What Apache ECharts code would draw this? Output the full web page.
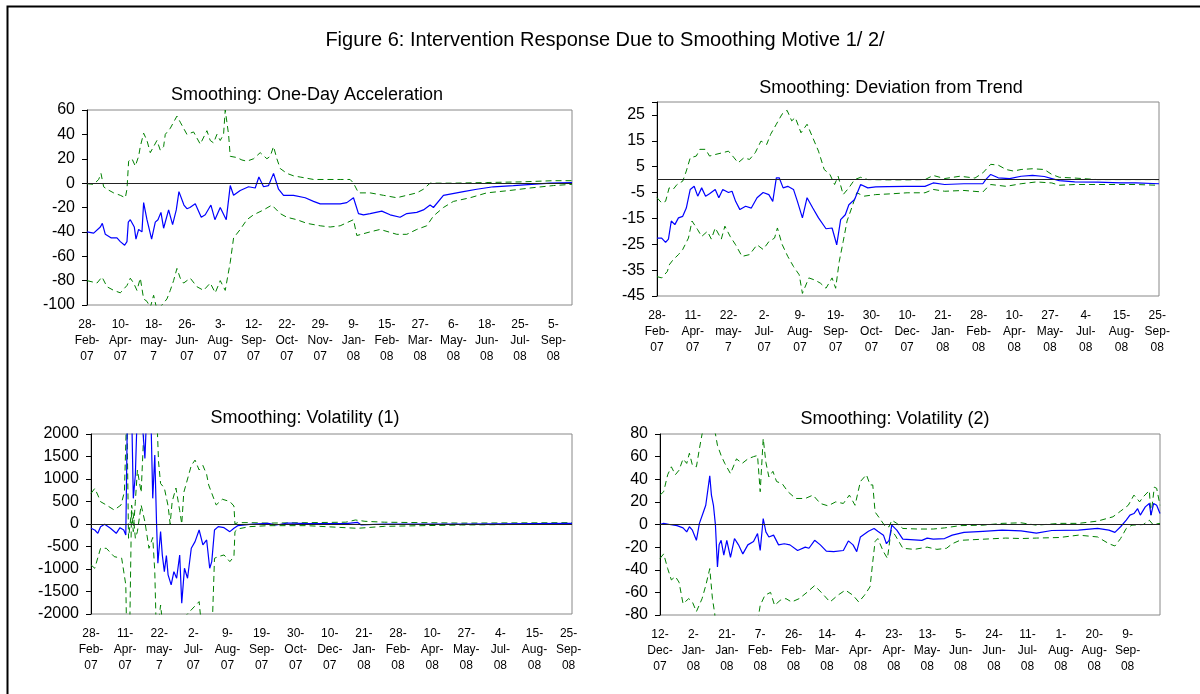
<!DOCTYPE html>
<html>
<head>
<meta charset="utf-8">
<title>Figure 6</title>
<script src="https://cdn.jsdelivr.net/npm/echarts@6/dist/echarts.min.js"></script>
<style>
  html, body { margin: 0; padding: 0; background: #fff; }
  #main { width: 1200px; height: 694px; }
</style>
</head>
<body>
<div id="main"></div>
<script>
// x positions are in "label steps": 0 = first date label, 1 = second label, ...

// 1. One-Day Acceleration
var accDates = ['28-Feb-07', '10-Apr-07', '18-may-7', '26-Jun-07', '3-Aug-07', '12-Sep-07', '22-Oct-07', '29-Nov-07',
    '9-Jan-08', '15-Feb-08', '27-Mar-08', '6-May-08', '18-Jun-08', '25-Jul-08', '5-Sep-08'];
var accTicks = [-100, -80, -60, -40, -20, 0, 20, 40, 60];
var accMid = [[0, -40], [0.2, -41], [0.4, -36], [0.46, -33], [0.55, -42], [0.73, -45], [0.9, -45], [1.0, -48], [1.13, -51],
    [1.2, -48], [1.24, -32], [1.3, -30], [1.36, -30], [1.42, -36], [1.47, -46], [1.55, -38], [1.65, -40], [1.7, -16],
    [1.8, -30], [1.94, -46], [2.05, -32], [2.13, -30], [2.22, -24], [2.3, -37], [2.45, -22], [2.57, -34], [2.68, -22],
    [2.76, -7], [2.91, -18], [3.0, -21], [3.09, -20], [3.25, -17], [3.43, -28], [3.55, -26], [3.72, -18], [3.84, -30],
    [4.0, -20], [4.18, -30], [4.3, -2], [4.4, -10], [4.6, -6], [4.85, -3], [5.05, -4], [5.16, 5], [5.3, -3], [5.45, -2],
    [5.6, 8], [5.75, -5], [5.9, -10], [6.2, -10], [6.55, -12], [6.8, -15], [7.0, -17], [7.3, -17], [7.6, -17], [7.8, -16],
    [8.0, -12], [8.15, -25], [8.3, -26], [8.5, -25], [8.85, -23], [9.1, -26], [9.4, -28], [9.6, -25], [9.9, -24],
    [10.1, -22], [10.3, -18], [10.4, -20], [10.7, -10], [10.9, -9], [11.3, -7], [11.7, -5], [12.2, -3], [12.8, -2],
    [13.35, -1], [13.9, 0], [14.56, 0.5]];
var accHi = [[0, -0.5], [0.2, -1], [0.35, 3], [0.42, 8], [0.5, -3], [0.6, -5], [0.8, -8], [1.0, -10], [1.15, -12], [1.2, -5],
    [1.25, 18], [1.35, 20], [1.45, 14], [1.55, 22], [1.6, 30], [1.7, 41], [1.8, 35], [1.9, 25], [2.0, 30], [2.1, 35],
    [2.2, 27], [2.3, 30], [2.35, 40], [2.5, 45], [2.7, 55], [2.8, 50], [2.9, 45], [3.0, 40], [3.2, 42], [3.4, 32],
    [3.6, 43], [3.7, 35], [3.8, 33], [3.9, 40], [4.0, 35], [4.1, 40], [4.15, 60], [4.25, 40], [4.3, 22], [4.5, 21],
    [4.65, 19], [4.8, 18], [5.0, 20], [5.2, 25], [5.4, 20], [5.5, 22], [5.6, 30], [5.7, 20], [5.8, 12], [6.0, 8],
    [6.2, 6], [6.4, 5], [6.8, 3], [7.2, 3], [7.6, 3], [7.9, 3], [8.0, 0], [8.15, -8], [8.5, -8], [8.9, -10], [9.3, -12],
    [9.6, -10], [9.9, -8], [10.1, -5], [10.3, 0], [10.6, 0], [11, 0], [12, 0.5], [13, 1], [14, 2], [14.56, 2]];
var accLo = [[0, -80], [0.3, -82], [0.45, -77], [0.6, -85], [0.8, -88], [1.0, -90], [1.1, -87], [1.2, -84], [1.3, -78],
    [1.4, -82], [1.5, -88], [1.6, -78], [1.7, -95], [1.8, -97], [1.9, -102], [2.0, -92], [2.1, -104], [2.25, -100],
    [2.4, -95], [2.5, -88], [2.6, -80], [2.7, -70], [2.8, -78], [2.9, -82], [3.1, -78], [3.3, -85], [3.5, -88],
    [3.7, -82], [3.85, -90], [4.0, -80], [4.15, -88], [4.3, -65], [4.4, -45], [4.6, -38], [4.8, -30], [5.0, -26],
    [5.3, -22], [5.55, -18], [5.8, -25], [6.0, -28], [6.3, -30], [6.6, -33], [7.0, -35], [7.3, -36], [7.6, -35],
    [8.0, -30], [8.1, -43], [8.5, -40], [8.8, -38], [9.3, -42], [9.6, -42], [9.9, -38], [10.2, -35], [10.4, -27],
    [10.7, -20], [11.0, -15], [11.5, -12], [12, -8], [12.7, -6], [13.3, -4], [14, -2], [14.56, -1]];

// 2. Deviation from Trend
var devDates = ['28-Feb-07', '11-Apr-07', '22-may-7', '2-Jul-07', '9-Aug-07', '19-Sep-07', '30-Oct-07', '10-Dec-07',
    '21-Jan-08', '28-Feb-08', '10-Apr-08', '27-May-08', '4-Jul-08', '15-Aug-08', '25-Sep-08'];
var devTicks = [-45, -35, -25, -15, -5, 5, 15, 25];
var devMid = [[0, -22.6], [0.13, -22.6], [0.24, -24.3], [0.32, -23], [0.4, -16], [0.5, -17.4], [0.6, -14.8], [0.72, -14.2],
    [0.82, -11], [0.93, -3.8], [1.04, -2.6], [1.14, -6.4], [1.25, -3.2], [1.36, -6.4], [1.47, -5.5], [1.63, -3.8],
    [1.73, -7], [1.84, -3.8], [2.0, -5], [2.1, -4.5], [2.2, -8.4], [2.32, -11.6], [2.48, -10.3], [2.64, -11], [2.8, -7],
    [2.97, -5], [3.13, -5.8], [3.24, -8.4], [3.34, 0.7], [3.42, 0.7], [3.53, -3.2], [3.66, -2.6], [3.82, -3.8],
    [3.93, -8.4], [4.07, -14.8], [4.2, -7], [4.36, -11], [4.52, -14.8], [4.73, -19], [4.9, -18.7], [5.03, -25.2],
    [5.14, -15.5], [5.27, -13.6], [5.37, -9.7], [5.53, -7.7], [5.7, -1.9], [5.9, -3.2], [6.12, -2.8], [6.45, -2.7],
    [6.98, -2.6], [7.5, -2.6], [7.73, -1.3], [8.05, -1.9], [8.59, -1.6], [9.12, -1.6], [9.2, 0], [9.34, 2], [9.55, 0.7],
    [9.87, 0.4], [10.19, 1.3], [10.51, 1.6], [10.84, 1.2], [11.05, 0.4], [11.26, -0.4], [11.69, -0.9], [12.33, -1],
    [12.98, -1.3], [13.4, -1.3], [14.05, -1.6]];
var devHi = [[0, -7], [0.13, -9], [0.24, -8.4], [0.34, -3.2], [0.45, -3.8], [0.56, -1.9], [0.72, -0.6], [0.82, 3.3],
    [0.93, 8.4], [1.1, 9.1], [1.2, 11.7], [1.36, 11.7], [1.47, 9.1], [1.63, 9.7], [1.84, 10.4], [2.0, 11], [2.16, 8.4],
    [2.27, 6.5], [2.43, 8.4], [2.59, 7.8], [2.75, 10.4], [2.91, 14.9], [3.07, 13.6], [3.18, 17.5], [3.34, 21.4],
    [3.5, 25.3], [3.64, 26.8], [3.77, 22.7], [3.87, 24], [4.03, 18.1], [4.2, 21.4], [4.36, 16.2], [4.52, 11], [4.68, 3.9],
    [4.84, 2], [4.97, -1.9], [5.07, 1.3], [5.21, -5.8], [5.37, -3.2], [5.53, 0], [5.7, 0.9], [5.9, 0], [6.45, -0.1],
    [7.0, -0.1], [7.5, 0], [7.73, 1.6], [8.05, 0.4], [8.48, 1.3], [8.9, 0.6], [9.12, 2.6], [9.34, 5.9], [9.55, 5.6],
    [9.77, 3.9], [9.98, 3.3], [10.19, 3.9], [10.51, 4.2], [10.84, 3.9], [11.05, 2], [11.26, 0.9], [11.69, 0.6],
    [12.33, 0], [13.4, 0], [14.05, 0]];
var devLo = [[0, -37.5], [0.13, -38], [0.29, -35.5], [0.34, -33], [0.45, -31], [0.6, -29], [0.72, -27], [0.88, -22.6],
    [0.98, -16], [1.14, -19.4], [1.25, -22], [1.41, -20], [1.52, -23], [1.63, -18.7], [1.8, -23], [1.9, -18], [2.05, -22],
    [2.2, -25.2], [2.38, -29.7], [2.59, -29], [2.8, -25.2], [2.97, -27], [3.13, -24], [3.29, -22.6], [3.37, -18.7],
    [3.5, -25], [3.66, -29.7], [3.82, -33.6], [3.98, -36.8], [4.07, -44], [4.25, -38], [4.41, -38.8], [4.57, -40],
    [4.73, -42], [4.9, -38], [5.0, -42], [5.1, -31.7], [5.21, -24], [5.32, -16], [5.48, -9.7], [5.59, -5.1], [5.8, -6.4],
    [6.12, -5.8], [6.55, -5.5], [7.0, -5.1], [7.5, -5.1], [7.73, -3.8], [8.05, -4.5], [8.59, -4.2], [9.12, -4.8],
    [9.23, -3.2], [9.34, -1.9], [9.77, -2.6], [10.19, -1.6], [10.62, -0.9], [11.05, -1.3], [11.26, -2.2], [11.69, -1.9],
    [12.33, -1.9], [13.4, -1.9], [14.05, -2.2]];

// 3. Volatility (1)
var vol1Dates = devDates;
var vol1Ticks = [-2000, -1500, -1000, -500, 0, 500, 1000, 1500, 2000];
var vol1Mid = [[0, -96], [0.11, -133], [0.2, -207], [0.28, -59], [0.4, -7], [0.57, -96], [0.74, -207], [0.85, -81],
    [0.96, -133], [1.02, -244], [1.07, 2600], [1.19, 2600], [1.24, 570], [1.3, 1088], [1.36, 2600], [1.47, 2600],
    [1.58, 1458], [1.64, 2600], [1.75, 2600], [1.81, 570], [1.87, 1532], [1.92, 52], [1.96, -873], [2.04, -170],
    [2.09, -688], [2.15, -1058], [2.21, -700], [2.26, -1132], [2.35, -1354], [2.43, -1058], [2.51, -1206], [2.6, -688],
    [2.66, -1761], [2.74, -984], [2.83, -1206], [2.94, -540], [3.05, -392], [3.17, -133], [3.28, -466], [3.39, -355],
    [3.48, -984], [3.54, -836], [3.62, -133], [3.73, -59], [3.9, -81], [4.07, -170], [4.19, -96], [4.3, -37],
    [4.64, -7], [5.2, 15], [5.43, -22], [5.77, 22], [6.33, 10], [7.47, 10], [7.81, 37], [7.92, -20], [8.6, 0],
    [10.86, 0], [14.1, 15]];
var vol1Hi = [[0, 680], [0.11, 790], [0.2, 644], [0.28, 496], [0.45, 422], [0.68, 311], [0.88, 422], [0.98, 718],
    [1.05, 2600], [1.1, -318], [1.19, 300], [1.24, -170], [1.3, 500], [1.36, 1200], [1.47, 700], [1.58, 2600],
    [1.7, 2600], [1.81, 2600], [1.92, 2600], [1.98, 1384], [2.04, 900], [2.15, 800], [2.26, 400], [2.32, 0], [2.38, 500],
    [2.49, 800], [2.6, 300], [2.66, 0], [2.72, 700], [2.83, 1000], [2.94, 1300], [3.05, 1420], [3.17, 1200],
    [3.28, 1300], [3.39, 1100], [3.45, 866], [3.56, 644], [3.67, 422], [3.85, 550], [4.07, 500], [4.19, 400],
    [4.22, 0], [4.3, 30], [4.64, 30], [5.2, 20], [6.33, 30], [7.47, 40], [7.75, 89], [8.03, 60], [8.6, 40],
    [10.86, 20], [14.1, 30]];
var vol1Lo = [[0, -910], [0.11, -984], [0.28, -540], [0.45, -540], [0.68, -725], [0.9, -762], [1.02, -1354],
    [1.05, -2600], [1.13, -2600], [1.19, 420], [1.24, 200], [1.3, -318], [1.36, -170], [1.47, 420], [1.58, 50],
    [1.7, -540], [1.81, -300], [1.87, -1058], [1.92, -2600], [2.04, -1800], [2.15, -2600], [2.6, -2600], [2.7, -2100],
    [3.17, -1724], [3.28, -2600], [3.54, -2600], [3.62, -762], [3.73, -725], [3.9, -688], [4.07, -836], [4.19, -725],
    [4.22, -170], [4.3, -111], [4.64, -59], [5.2, -37], [6.33, -37], [7.81, -96], [8.6, -52], [10.86, -22], [14.1, 0]];

// 4. Volatility (2)
var vol2Dates = ['12-Dec-07', '2-Jan-08', '21-Jan-08', '7-Feb-08', '26-Feb-08', '14-Mar-08', '4-Apr-08', '23-Apr-08',
    '13-May-08', '5-Jun-08', '24-Jun-08', '11-Jul-08', '1-Aug-08', '20-Aug-08', '9-Sep-08'];
var vol2Ticks = [-80, -60, -40, -20, 0, 20, 40, 60, 80];
var vol2Mid = [[0, 0], [0.11, 1], [0.29, 0], [0.51, -1], [0.69, -3], [0.8, -6.5], [0.88, -2], [0.97, -5], [1.09, -14],
    [1.18, 1], [1.3, 11], [1.37, 17], [1.49, 43], [1.54, 26], [1.6, 17], [1.66, -0.6], [1.72, -37.5], [1.77, -18],
    [1.83, -14], [1.91, -27], [2.0, -14], [2.11, -29], [2.23, -12.4], [2.35, -18], [2.48, -26], [2.63, -18], [2.8, -15],
    [2.92, -8], [3.0, -23], [3.09, 5.3], [3.17, -6.5], [3.26, -11], [3.4, -9.4], [3.55, -18], [3.72, -17], [3.89, -18],
    [4.12, -23], [4.35, -20], [4.46, -21], [4.63, -14], [4.8, -18], [4.98, -23.6], [5.2, -24], [5.49, -23],
    [5.64, -14.5], [5.78, -18], [5.89, -24], [6.0, -11], [6.24, -6], [6.41, -3.5], [6.52, -6], [6.69, -9.4], [6.78, -17],
    [6.86, -14], [6.94, -0.6], [7.09, -5], [7.27, -13], [7.84, -14], [8.0, -12], [8.18, -13], [8.52, -12.4],
    [8.75, -9.4], [9.1, -7], [9.67, -6], [10.24, -5], [10.81, -5.6], [11.27, -7.7], [11.73, -5.3], [12.53, -5],
    [13.1, -3.5], [13.44, -5], [13.62, -7], [13.79, -2], [13.96, 3.8], [14.07, 8.3], [14.19, 9.7], [14.3, 14],
    [14.38, 8.3], [14.53, 15.6], [14.65, 18.6], [14.7, 8.3], [14.78, 18.6], [14.87, 17], [14.97, 9.7]];
var vol2Hi = [[0, 26], [0.11, 29], [0.23, 44], [0.34, 51], [0.46, 44], [0.57, 48], [0.69, 58], [0.8, 54], [0.88, 63],
    [0.97, 52.5], [1.09, 51], [1.18, 67], [1.26, 80], [1.37, 90], [1.54, 90], [1.66, 80], [1.72, 70], [1.83, 61],
    [1.94, 54], [2.11, 45], [2.29, 58], [2.46, 54], [2.63, 58], [2.8, 60], [2.92, 61], [3.0, 29], [3.09, 76],
    [3.17, 55], [3.26, 42], [3.38, 47], [3.49, 38], [3.66, 36], [3.83, 29], [4.06, 23], [4.35, 23], [4.58, 26],
    [4.8, 18.6], [5.03, 16.5], [5.26, 20], [5.49, 18.6], [5.67, 26], [5.84, 17], [6.0, 38], [6.18, 44], [6.29, 35],
    [6.37, 35], [6.44, 11], [6.58, 5.3], [6.75, -2], [6.86, -2], [6.94, 3.8], [7.09, 1], [7.27, -3.5], [7.72, -4],
    [8.18, -4], [8.52, -3], [8.98, -1], [9.67, -0.6], [10.24, 1], [10.81, 1.5], [11.27, -0.6], [11.96, 1], [12.53, 1],
    [13.1, 3], [13.56, 6.8], [13.79, 11.8], [14.02, 17], [14.19, 26], [14.36, 20], [14.47, 24.5], [14.65, 30],
    [14.7, 8.3], [14.8, 33], [14.87, 32], [14.97, 17]];
var vol2Lo = [[0, -30], [0.11, -26], [0.23, -39], [0.34, -49], [0.46, -46], [0.57, -51], [0.69, -70], [0.86, -65.5],
    [0.97, -68.5], [1.09, -77], [1.26, -65.5], [1.37, -54], [1.49, -39], [1.57, -65.5], [1.64, -79], [1.66, -89],
    [2.3, -95], [2.9, -90], [3.0, -71.5], [3.14, -62.6], [3.31, -60], [3.43, -71.5], [3.6, -67], [3.77, -65.5],
    [3.94, -68.5], [4.17, -65.5], [4.4, -60], [4.63, -54], [4.86, -61], [5.09, -68.5], [5.32, -62.6], [5.55, -58],
    [5.78, -62.6], [5.95, -68.5], [6.12, -62.6], [6.29, -55], [6.37, -33], [6.44, -15], [6.52, -12.4], [6.69, -24],
    [6.81, -30], [6.92, -5], [7.04, -9.4], [7.27, -21], [7.61, -22], [8.0, -20], [8.29, -22], [8.58, -21], [8.75, -17],
    [8.98, -14], [9.67, -13], [10.35, -12], [10.81, -12.4], [11.27, -12], [11.96, -11.5], [12.53, -9.4], [13.1, -11],
    [13.44, -17], [13.62, -19], [13.79, -12.4], [13.96, -3.5], [14.13, -0.6], [14.47, 0], [14.65, 3.8], [14.76, 0],
    [14.97, 1]];

var FONT = '"Liberation Sans", Arial, sans-serif';

var myChart = echarts.init(document.getElementById('main'), null, { renderer: 'canvas' });

var grids = [], xAxes = [], yAxes = [], series = [];

// one panel = one grid + its axes + three lines (estimate, upper band, lower band)
function addPanel(box, dates, xMax, ticks, mid, hi, lo) {
    var i = grids.length;
    grids.push({
        left: box[0], top: box[1], width: box[2], height: box[3],
        show: true, borderColor: '#888', borderWidth: 1, backgroundColor: 'transparent',
        outerBoundsMode: 'none'
    });
    xAxes.push({
        type: 'value', gridIndex: i, min: 0, max: xMax, interval: 1,
        axisLine: { show: false }, axisTick: { show: false }, splitLine: { show: false },
        axisLabel: {
            color: '#000', fontFamily: FONT, fontSize: 12, lineHeight: 16, margin: 12,
            showMinLabel: true, showMaxLabel: true,
            formatter: function (v) {
                var s = dates[v];
                return s ? s.replace(/-/g, '-\n') : '';
            }
        }
    });
    var step = ticks[1] - ticks[0];
    var top = ticks[ticks.length - 1];
    yAxes.push({
        type: 'value', gridIndex: i,
        min: ticks[0], max: box[4] !== undefined ? box[4] : top, interval: step,
        axisLine: { show: true, onZero: false, lineStyle: { color: '#000', width: 1 } },
        axisTick: { show: true, length: 5, lineStyle: { color: '#000' } },
        splitLine: { show: false },
        axisLabel: {
            color: '#000', fontFamily: FONT, fontSize: 16, margin: 12,
            formatter: function (v) { return ticks.indexOf(v) >= 0 ? String(v) : ''; }
        }
    });
    series.push({
        type: 'line', xAxisIndex: i, yAxisIndex: i, data: hi, symbol: 'none',
        lineStyle: { color: '#008000', width: 1, type: [6, 4] }, z: 2
    });
    series.push({
        type: 'line', xAxisIndex: i, yAxisIndex: i, data: lo, symbol: 'none',
        lineStyle: { color: '#008000', width: 1, type: [6, 4] }, z: 2
    });
    series.push({
        type: 'line', xAxisIndex: i, yAxisIndex: i, data: mid, symbol: 'none',
        lineStyle: { color: '#0000ff', width: 1.2 }, z: 3,
        markLine: {
            silent: true, symbol: 'none', label: { show: false },
            lineStyle: { color: '#222', width: 1.2, type: 'solid' },
            data: [{ yAxis: 0 }]
        }
    });
}

addPanel([87, 110, 485, 195], accDates, 14.56, accTicks, accMid, accHi, accLo);
addPanel([657, 102, 502, 194, 30], devDates, 14.05, devTicks, devMid, devHi, devLo);
addPanel([91, 434, 481, 180], vol1Dates, 14.1, vol1Ticks, vol1Mid, vol1Hi, vol1Lo);
addPanel([660, 434, 500, 181], vol2Dates, 14.97, vol2Ticks, vol2Mid, vol2Hi, vol2Lo);

function titleAt(text, x, top, size) {
    return {
        text: text, left: x, top: top, textAlign: 'center', padding: 0,
        textStyle: { color: '#000', fontFamily: FONT, fontSize: size, fontWeight: 'normal' }
    };
}

var option = {
    animation: false,
    backgroundColor: '#fff',
    title: [
        titleAt('Figure 6: Intervention Response Due to Smoothing Motive 1/ 2/', 605, 30, 20),
        titleAt('Smoothing: One-Day Acceleration', 307, 86, 18),
        titleAt('Smoothing: Deviation from Trend', 891, 79, 18),
        titleAt('Smoothing: Volatility (1)', 305, 409, 18),
        titleAt('Smoothing: Volatility (2)', 895, 410, 18)
    ],
    // page frame (left and top rules)
    graphic: [{
        type: 'polyline', silent: true,
        shape: { points: [[7.5, 694], [7.5, 6.5], [1200, 6.5]] },
        style: { stroke: '#000', lineWidth: 2, fill: null }
    }],
    grid: grids,
    xAxis: xAxes,
    yAxis: yAxes,
    series: series
};

myChart.setOption(option);
</script>
</body>
</html>
